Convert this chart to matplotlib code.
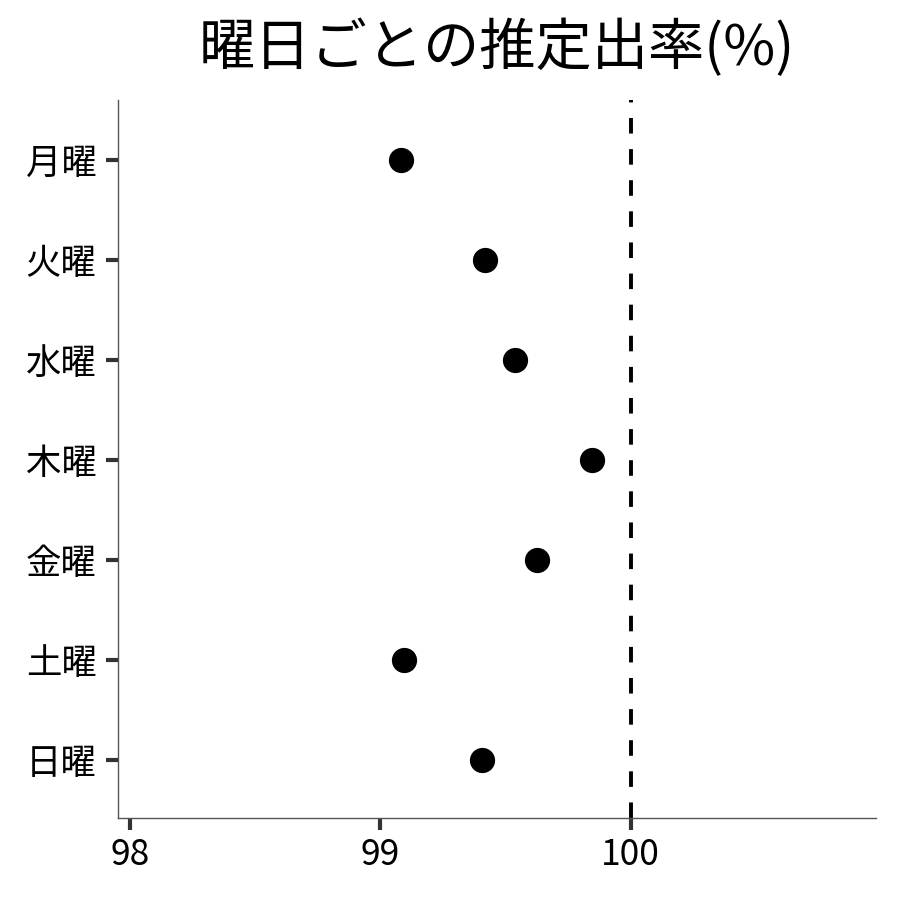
import matplotlib
matplotlib.use('Agg')
import matplotlib.pyplot as plt

plt.rcParams['font.family'] = ['Noto Sans CJK JP', 'DejaVu Sans']

# 曜日と推定出率
days = ['月曜', '火曜', '水曜', '木曜', '金曜', '土曜', '日曜']
rates = [99.084, 99.42, 99.536, 99.844, 99.624, 99.096, 99.408]
xticks = [98, 99, 100]
ref_line = 100

fig = plt.figure(figsize=(9, 9), dpi=100)
ax = fig.add_axes([0.1311, 0.0911, 0.8422, 0.7978])

ypos = list(range(len(days)))[::-1]
ax.scatter(rates, ypos, s=330, color='black', zorder=3, linewidths=0)
ax.axvline(ref_line, color='black', linestyle=(0, (4, 4)), linewidth=2.8)

ax.set_xlim(97.952, 100.98)
ax.set_ylim(-0.58, 6.6)
ax.set_xticks(xticks)
ax.set_xticklabels([str(v) for v in xticks])
ax.set_yticks(ypos)
ax.set_yticklabels(days)

for s in ['top', 'right']:
    ax.spines[s].set_visible(False)
for s in ['left', 'bottom']:
    ax.spines[s].set_color('#555555')
    ax.spines[s].set_linewidth(1.0)

ax.tick_params(axis='both', colors='#333333', length=8.5, width=3, labelsize=25.5,
               labelcolor='black')
ax.tick_params(axis='y', pad=7)
ax.tick_params(axis='x', pad=5.5)

ax.set_title('曜日ごとの推定出率(%)', fontsize=40.5, pad=25)

fig.savefig('out.png', dpi=100)
